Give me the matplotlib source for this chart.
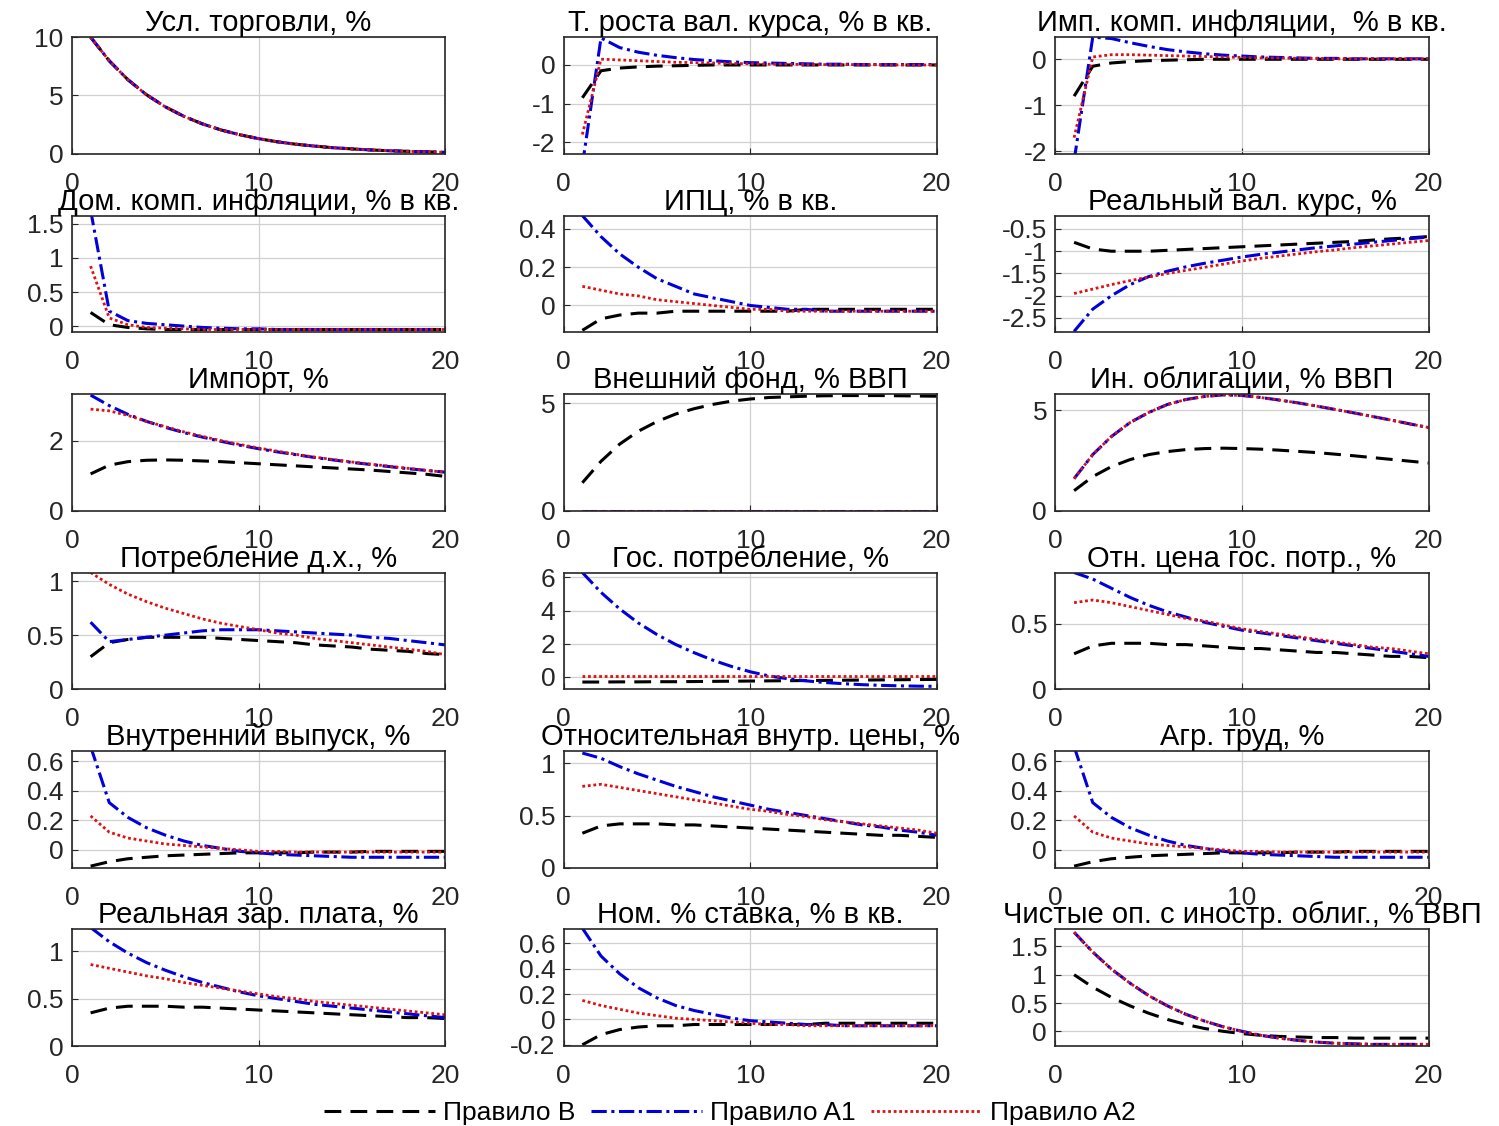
import matplotlib
matplotlib.use('Agg')
import matplotlib.pyplot as plt

plt.rcParams['font.family'] = ['Liberation Sans', 'DejaVu Sans']

x = list(range(1, 21))

# Усл. торговли, %
tot_B = [10.0, 7.97, 6.35, 5.06, 4.03, 3.21, 2.56, 2.04, 1.63, 1.30, 1.03, 0.82, 0.66, 0.52, 0.42, 0.33, 0.26, 0.21, 0.17, 0.13]
tot_A1 = [10.0, 7.97, 6.35, 5.06, 4.03, 3.21, 2.56, 2.04, 1.63, 1.30, 1.03, 0.82, 0.66, 0.52, 0.42, 0.33, 0.26, 0.21, 0.17, 0.13]
tot_A2 = [10.0, 7.97, 6.35, 5.06, 4.03, 3.21, 2.56, 2.04, 1.63, 1.30, 1.03, 0.82, 0.66, 0.52, 0.42, 0.33, 0.26, 0.21, 0.17, 0.13]

# Т. роста вал. курса
dex_B = [-0.85, -0.15, -0.08, -0.05, -0.03, -0.02, -0.01, 0.0, 0.0, 0.0, 0.0, 0.0, 0.0, 0.0, 0.0, 0.0, 0.0, 0.0, 0.0, 0.0]
dex_A1 = [-2.6, 0.7, 0.45, 0.33, 0.25, 0.19, 0.14, 0.11, 0.08, 0.06, 0.05, 0.04, 0.03, 0.02, 0.02, 0.01, 0.01, 0.01, 0.01, 0.01]
dex_A2 = [-1.8, 0.15, 0.13, 0.11, 0.09, 0.07, 0.06, 0.05, 0.04, 0.03, 0.02, 0.02, 0.01, 0.01, 0.01, 0.01, 0.01, 0.0, 0.0, 0.0]

# Имп. комп. инфляции
pim_B = [-0.8, -0.15, -0.08, -0.05, -0.03, -0.02, -0.01, 0.0, 0.0, 0.0, 0.0, 0.0, 0.0, 0.0, 0.0, 0.0, 0.0, 0.0, 0.0, 0.0]
pim_A1 = [-2.2, 0.48, 0.45, 0.36, 0.28, 0.21, 0.16, 0.12, 0.09, 0.07, 0.05, 0.04, 0.03, 0.02, 0.02, 0.01, 0.01, 0.01, 0.01, 0.01]
pim_A2 = [-1.7, 0.05, 0.1, 0.1, 0.09, 0.08, 0.07, 0.06, 0.05, 0.04, 0.03, 0.03, 0.02, 0.02, 0.01, 0.01, 0.01, 0.01, 0.01, 0.01]

# Дом. комп. инфляции
pd_B = [0.2, 0.02, -0.02, -0.04, -0.05, -0.05, -0.05, -0.05, -0.05, -0.05, -0.05, -0.05, -0.05, -0.05, -0.05, -0.05, -0.05, -0.05, -0.05, -0.05]
pd_A1 = [1.7, 0.22, 0.08, 0.04, 0.02, 0.0, -0.02, -0.03, -0.04, -0.04, -0.05, -0.05, -0.05, -0.05, -0.05, -0.05, -0.05, -0.05, -0.05, -0.05]
pd_A2 = [0.88, 0.12, 0.02, -0.02, -0.03, -0.04, -0.05, -0.05, -0.05, -0.05, -0.05, -0.05, -0.05, -0.05, -0.05, -0.05, -0.05, -0.05, -0.05, -0.05]

# ИПЦ
cpi_B = [-0.13, -0.07, -0.05, -0.04, -0.04, -0.03, -0.03, -0.03, -0.03, -0.03, -0.03, -0.03, -0.02, -0.02, -0.02, -0.02, -0.02, -0.02, -0.02, -0.02]
cpi_A1 = [0.47, 0.36, 0.27, 0.2, 0.14, 0.1, 0.06, 0.04, 0.02, 0.0, -0.01, -0.02, -0.02, -0.03, -0.03, -0.03, -0.03, -0.03, -0.03, -0.03]
cpi_A2 = [0.1, 0.08, 0.06, 0.05, 0.03, 0.02, 0.01, 0.0, -0.01, -0.02, -0.02, -0.03, -0.03, -0.03, -0.03, -0.03, -0.03, -0.03, -0.03, -0.03]

# Реальный вал. курс
rer_B = [-0.8, -0.95, -1.0, -1.0, -1.0, -0.98, -0.96, -0.94, -0.92, -0.9, -0.88, -0.86, -0.84, -0.82, -0.8, -0.78, -0.75, -0.72, -0.7, -0.67]
rer_A1 = [-2.8, -2.3, -2.0, -1.75, -1.57, -1.45, -1.35, -1.27, -1.2, -1.13, -1.07, -1.02, -0.97, -0.92, -0.88, -0.84, -0.8, -0.76, -0.72, -0.68]
rer_A2 = [-1.95, -1.85, -1.75, -1.66, -1.58, -1.5, -1.43, -1.36, -1.29, -1.22, -1.16, -1.11, -1.06, -1.01, -0.97, -0.92, -0.88, -0.84, -0.8, -0.76]

# Импорт
imp_B = [1.05, 1.3, 1.4, 1.44, 1.45, 1.44, 1.42, 1.4, 1.37, 1.34, 1.31, 1.28, 1.25, 1.22, 1.19, 1.16, 1.12, 1.08, 1.04, 0.98]
imp_A1 = [3.3, 3.0, 2.75, 2.55, 2.38, 2.23, 2.1, 1.98, 1.87, 1.77, 1.68, 1.6, 1.52, 1.45, 1.38, 1.32, 1.26, 1.2, 1.15, 1.1]
imp_A2 = [2.9, 2.85, 2.72, 2.55, 2.4, 2.25, 2.12, 2.0, 1.89, 1.79, 1.7, 1.61, 1.53, 1.46, 1.39, 1.33, 1.27, 1.21, 1.15, 1.1]

# Внешний фонд
fund_B = [1.3, 2.3, 3.1, 3.7, 4.15, 4.5, 4.75, 4.95, 5.1, 5.2, 5.27, 5.3, 5.33, 5.35, 5.36, 5.36, 5.36, 5.35, 5.34, 5.33]
fund_A1 = [0.0] * 20
fund_A2 = [0.0] * 20

# Ин. облигации
bond_B = [1.0, 1.7, 2.2, 2.55, 2.8, 2.95, 3.05, 3.1, 3.12, 3.1, 3.07, 3.02, 2.96, 2.9, 2.82, 2.74, 2.65, 2.56, 2.47, 2.38]
bond_A1 = [1.6, 2.8, 3.7, 4.4, 4.9, 5.3, 5.55, 5.7, 5.78, 5.75, 5.65, 5.52, 5.38, 5.22, 5.05, 4.88, 4.7, 4.52, 4.33, 4.15]
bond_A2 = [1.6, 2.8, 3.7, 4.4, 4.9, 5.3, 5.55, 5.7, 5.78, 5.75, 5.65, 5.52, 5.38, 5.22, 5.05, 4.88, 4.7, 4.52, 4.33, 4.15]

# Потребление д.х.
cons_B = [0.3, 0.43, 0.46, 0.48, 0.48, 0.48, 0.48, 0.47, 0.46, 0.45, 0.44, 0.43, 0.41, 0.4, 0.39, 0.37, 0.36, 0.35, 0.33, 0.32]
cons_A1 = [0.62, 0.44, 0.46, 0.48, 0.5, 0.52, 0.54, 0.55, 0.55, 0.55, 0.54, 0.53, 0.52, 0.51, 0.5, 0.48, 0.47, 0.45, 0.43, 0.41]
cons_A2 = [1.08, 0.97, 0.88, 0.81, 0.75, 0.7, 0.65, 0.61, 0.58, 0.55, 0.52, 0.5, 0.47, 0.45, 0.43, 0.41, 0.39, 0.37, 0.35, 0.32]

# Гос. потребление
gov_B = [-0.32, -0.32, -0.31, -0.31, -0.3, -0.3, -0.29, -0.28, -0.27, -0.26, -0.25, -0.24, -0.23, -0.22, -0.21, -0.2, -0.19, -0.18, -0.17, -0.16]
gov_A1 = [6.3, 5.1, 4.1, 3.25, 2.55, 1.95, 1.45, 1.0, 0.62, 0.3, 0.05, -0.12, -0.25, -0.35, -0.42, -0.48, -0.52, -0.55, -0.57, -0.58]
gov_A2 = [0.02] * 20

# Отн. цена гос. потр.
pg_B = [0.27, 0.33, 0.35, 0.35, 0.35, 0.34, 0.34, 0.33, 0.32, 0.31, 0.31, 0.3, 0.29, 0.28, 0.28, 0.27, 0.26, 0.25, 0.25, 0.24]
pg_A1 = [0.89, 0.84, 0.77, 0.7, 0.64, 0.59, 0.55, 0.51, 0.48, 0.45, 0.43, 0.41, 0.39, 0.37, 0.35, 0.33, 0.31, 0.29, 0.27, 0.25]
pg_A2 = [0.66, 0.68, 0.66, 0.63, 0.6, 0.57, 0.54, 0.52, 0.49, 0.46, 0.44, 0.42, 0.4, 0.38, 0.36, 0.34, 0.32, 0.31, 0.29, 0.27]

# Внутренний выпуск
out_B = [-0.11, -0.08, -0.06, -0.05, -0.04, -0.035, -0.03, -0.025, -0.02, -0.02, -0.02, -0.02, -0.015, -0.015, -0.015, -0.01, -0.01, -0.01, -0.01, -0.01]
out_A1 = [0.7, 0.32, 0.22, 0.15, 0.1, 0.06, 0.03, 0.01, -0.01, -0.02, -0.03, -0.035, -0.04, -0.045, -0.05, -0.05, -0.05, -0.05, -0.05, -0.05]
out_A2 = [0.23, 0.12, 0.08, 0.06, 0.04, 0.03, 0.02, 0.01, 0.0, -0.01, -0.01, -0.015, -0.015, -0.015, -0.015, -0.015, -0.015, -0.015, -0.015, -0.015]

# Относительная внутр. цены
pdr_B = [0.33, 0.4, 0.42, 0.42, 0.42, 0.41, 0.41, 0.4, 0.39, 0.38, 0.37, 0.36, 0.35, 0.34, 0.33, 0.32, 0.31, 0.31, 0.3, 0.29]
pdr_A1 = [1.1, 1.05, 0.97, 0.9, 0.84, 0.78, 0.73, 0.68, 0.64, 0.6, 0.56, 0.53, 0.5, 0.47, 0.44, 0.41, 0.39, 0.36, 0.34, 0.31]
pdr_A2 = [0.78, 0.8, 0.77, 0.74, 0.71, 0.68, 0.65, 0.62, 0.59, 0.56, 0.54, 0.51, 0.49, 0.46, 0.44, 0.42, 0.4, 0.38, 0.36, 0.33]

# Агр. труд
lab_B = [-0.11, -0.08, -0.06, -0.05, -0.04, -0.035, -0.03, -0.025, -0.02, -0.02, -0.02, -0.02, -0.015, -0.015, -0.015, -0.01, -0.01, -0.01, -0.01, -0.01]
lab_A1 = [0.7, 0.32, 0.22, 0.15, 0.1, 0.06, 0.03, 0.01, -0.01, -0.02, -0.03, -0.035, -0.04, -0.045, -0.05, -0.05, -0.05, -0.05, -0.05, -0.05]
lab_A2 = [0.23, 0.12, 0.08, 0.06, 0.04, 0.03, 0.02, 0.01, 0.0, -0.01, -0.01, -0.015, -0.015, -0.015, -0.015, -0.015, -0.015, -0.015, -0.015, -0.015]

# Реальная зар. плата
wage_B = [0.35, 0.4, 0.42, 0.42, 0.42, 0.41, 0.41, 0.4, 0.39, 0.38, 0.37, 0.36, 0.35, 0.34, 0.33, 0.32, 0.31, 0.3, 0.3, 0.29]
wage_A1 = [1.25, 1.1, 0.98, 0.88, 0.8, 0.73, 0.67, 0.62, 0.57, 0.53, 0.5, 0.47, 0.44, 0.42, 0.4, 0.38, 0.36, 0.34, 0.32, 0.3]
wage_A2 = [0.86, 0.82, 0.78, 0.74, 0.71, 0.67, 0.64, 0.61, 0.58, 0.55, 0.52, 0.5, 0.47, 0.45, 0.43, 0.41, 0.39, 0.37, 0.35, 0.33]

# Ном. % ставка
rate_B = [-0.2, -0.12, -0.08, -0.06, -0.05, -0.05, -0.04, -0.04, -0.04, -0.04, -0.04, -0.04, -0.04, -0.03, -0.03, -0.03, -0.03, -0.03, -0.03, -0.03]
rate_A1 = [0.72, 0.5, 0.36, 0.25, 0.17, 0.11, 0.07, 0.04, 0.01, -0.01, -0.02, -0.03, -0.04, -0.04, -0.05, -0.05, -0.05, -0.05, -0.05, -0.05]
rate_A2 = [0.15, 0.11, 0.08, 0.05, 0.03, 0.01, 0.0, -0.01, -0.02, -0.03, -0.04, -0.04, -0.05, -0.05, -0.05, -0.05, -0.05, -0.05, -0.05, -0.05]

# Чистые оп. с иностр. облиг.
nfa_B = [1.0, 0.78, 0.6, 0.45, 0.32, 0.21, 0.12, 0.05, 0.0, -0.04, -0.07, -0.09, -0.1, -0.11, -0.11, -0.12, -0.12, -0.12, -0.12, -0.12]
nfa_A1 = [1.75, 1.4, 1.1, 0.85, 0.63, 0.45, 0.3, 0.18, 0.08, 0.0, -0.07, -0.12, -0.16, -0.19, -0.21, -0.22, -0.23, -0.23, -0.23, -0.23]
nfa_A2 = [1.75, 1.4, 1.1, 0.85, 0.63, 0.45, 0.3, 0.18, 0.08, 0.0, -0.07, -0.12, -0.16, -0.19, -0.21, -0.22, -0.23, -0.23, -0.23, -0.23]

titles = [
    "Усл. торговли, %", "Т. роста вал. курса, % в кв.", "Имп. комп. инфляции,  % в кв.",
    "Дом. комп. инфляции, % в кв.", "ИПЦ, % в кв.", "Реальный вал. курс, %",
    "Импорт, %", "Внешний фонд, % ВВП", "Ин. облигации, % ВВП",
    "Потребление д.х., %", "Гос. потребление, %", "Отн. цена гос. потр., %",
    "Внутренний выпуск, %", "Относительная внутр. цены, %", "Агр. труд, %",
    "Реальная зар. плата, %", "Ном. % ставка, % в кв.", "Чистые оп. с иностр. облиг., % ВВП",
]
series = [
    (tot_B, tot_A1, tot_A2), (dex_B, dex_A1, dex_A2), (pim_B, pim_A1, pim_A2),
    (pd_B, pd_A1, pd_A2), (cpi_B, cpi_A1, cpi_A2), (rer_B, rer_A1, rer_A2),
    (imp_B, imp_A1, imp_A2), (fund_B, fund_A1, fund_A2), (bond_B, bond_A1, bond_A2),
    (cons_B, cons_A1, cons_A2), (gov_B, gov_A1, gov_A2), (pg_B, pg_A1, pg_A2),
    (out_B, out_A1, out_A2), (pdr_B, pdr_A1, pdr_A2), (lab_B, lab_A1, lab_A2),
    (wage_B, wage_A1, wage_A2), (rate_B, rate_A1, rate_A2), (nfa_B, nfa_A1, nfa_A2),
]
legend_labels = ["Правило B", "Правило A1", "Правило A2"]

# axis ranges / ticks per panel
ylims = [
    (0, 10), (-2.3, 0.72), (-2.05, 0.48),
    (-0.09, 1.62), (-0.14, 0.47), (-2.82, -0.2),
    (0, 3.33), (0, 5.43), (0, 5.82),
    (0, 1.08), (-0.75, 6.3), (0, 0.89),
    (-0.12, 0.67), (0, 1.12), (-0.12, 0.67),
    (0, 1.23), (-0.21, 0.71), (-0.26, 1.8),
]
yticks = [
    [0, 5, 10], [-2, -1, 0], [-2, -1, 0],
    [0, 0.5, 1, 1.5], [0, 0.2, 0.4], [-2.5, -2, -1.5, -1, -0.5],
    [0, 2], [0, 5], [0, 5],
    [0, 0.5, 1], [0, 2, 4, 6], [0, 0.5],
    [0, 0.2, 0.4, 0.6], [0, 0.5, 1], [0, 0.2, 0.4, 0.6],
    [0, 0.5, 1], [-0.2, 0, 0.2, 0.4, 0.6], [0, 0.5, 1, 1.5],
]

styles = [
    dict(color='black', linestyle=(0, (5.5, 3)), linewidth=2.2),
    dict(color='#0000dd', linestyle=(0, (5, 1.5, 1, 1.5)), linewidth=2.2),
    dict(color='#e01010', linestyle=(0, (1, 1)), linewidth=2.0),
]

fig, axes = plt.subplots(6, 3, figsize=(14.99, 11.26), dpi=100)
fig.subplots_adjust(left=0.048, right=0.953, top=0.967, bottom=0.071,
                    wspace=0.318, hspace=0.53)

lines = []
for i, ax in enumerate(axes.flat):
    lines = []
    for data, st in zip(series[i], styles):
        ln, = ax.plot(x, data, **st)
        lines.append(ln)
    ax.set_xlim(0, 20)
    ax.set_ylim(*ylims[i])
    ax.set_xticks([0, 10, 20])
    ax.set_yticks(yticks[i])
    ax.set_yticklabels([f'{t:g}' for t in yticks[i]])
    ax.grid(True, color='#d0d0d0', linewidth=0.9)
    ax.set_axisbelow(True)
    ax.tick_params(direction='in', length=4, labelsize=19, colors='#262626')
    ax.tick_params(axis='x', pad=13)
    ax.tick_params(axis='y', pad=6)
    for sp in ax.spines.values():
        sp.set_color('#262626')
        sp.set_linewidth(1.2)
    ax.set_title(titles[i], fontsize=21, pad=4, color='black')

fig.legend(lines, legend_labels, loc='lower center', bbox_to_anchor=(0.487, -0.02),
           ncol=3, frameon=False, fontsize=19, handlelength=4.2,
           columnspacing=0.6, handletextpad=0.3)

plt.savefig('out.png', dpi=100)
plt.close()
